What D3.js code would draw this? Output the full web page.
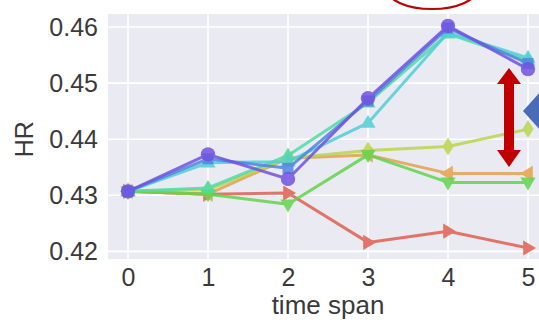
<!DOCTYPE html>
<html>
<head>
<meta charset="utf-8">
<script src="https://cdn.jsdelivr.net/npm/d3@7"></script>
<style>
  html, body { margin: 0; padding: 0; background: #fff; }
  svg { display: block; font-family: "Liberation Sans", Arial, sans-serif; }
</style>
</head>
<body>
<svg id="chart" width="539" height="325"></svg>
<script>
// HR per time span, one series per model variant
const timeSpans = [0, 1, 2, 3, 4, 5];
const yTicks = [0.42, 0.43, 0.44, 0.45, 0.46];

const redSeries    = [0.4307, 0.4302, 0.4304, 0.4216, 0.4236, 0.4206];
const orangeSeries = [0.4307, 0.4302, 0.4366, 0.4372, 0.4339, 0.4339];
const limeSeries   = [0.4307, 0.4310, 0.4366, 0.4380, 0.4387, 0.4418];
const greenSeries  = [0.4307, 0.4302, 0.4284, 0.4372, 0.4323, 0.4323];
const mintSeries   = [0.4307, 0.4313, 0.4371, 0.4465, 0.4588, 0.4540];
const cyanSeries   = [0.4307, 0.4358, 0.4360, 0.4429, 0.4590, 0.4545];
const blueSeries   = [0.4307, 0.4365, 0.4348, 0.4468, 0.4598, 0.4535];
const purpleSeries = [0.4307, 0.4373, 0.4329, 0.4473, 0.4602, 0.4525];

const series = [
  { values: redSeries,    color: "#e0604f", marker: "right" },
  { values: orangeSeries, color: "#e3a24f", marker: "left" },
  { values: limeSeries,   color: "#b9d64c", marker: "diamond" },
  { values: greenSeries,  color: "#62d44c", marker: "down" },
  { values: mintSeries,   color: "#4fdca8", marker: "up" },
  { values: cyanSeries,   color: "#4fcfd8", marker: "up" },
  { values: blueSeries,   color: "#4f86e0", marker: "square" },
  { values: purpleSeries, color: "#7152e0", marker: "circle" }
];

const svg = d3.select("#chart");
const plot = { left: 108, right: 548, top: 14, bottom: 259 };

const x = d3.scaleLinear().domain([-0.25, 5.25]).range([plot.left, plot.right]);
const y = d3.scaleLinear().domain([0.41864, 0.46232]).range([plot.bottom, plot.top]);

// plot background
svg.append("rect")
  .attr("x", plot.left).attr("y", plot.top)
  .attr("width", plot.right - plot.left).attr("height", plot.bottom - plot.top)
  .attr("fill", "#eaeaf2");

// grid lines
svg.append("g").selectAll("line").data(yTicks).join("line")
  .attr("x1", plot.left).attr("x2", plot.right)
  .attr("y1", d => y(d)).attr("y2", d => y(d))
  .attr("stroke", "#fff").attr("stroke-width", 1.6);
svg.append("g").selectAll("line").data(timeSpans).join("line")
  .attr("y1", plot.top).attr("y2", plot.bottom)
  .attr("x1", d => x(d)).attr("x2", d => x(d))
  .attr("stroke", "#fff").attr("stroke-width", 1.6);

// axes (labels only, no tick marks or domain line)
const yAxis = svg.append("g")
  .attr("transform", `translate(${plot.left},0)`)
  .call(d3.axisLeft(y).tickValues(yTicks).tickFormat(d3.format(".2f")).tickSize(0).tickPadding(10));
const xAxis = svg.append("g")
  .attr("transform", `translate(0,${plot.bottom})`)
  .call(d3.axisBottom(x).tickValues(timeSpans).tickFormat(d3.format("d")).tickSize(0).tickPadding(9));
[yAxis, xAxis].forEach(a => {
  a.select(".domain").remove();
  a.selectAll("text").attr("fill", "#3a3a3a").attr("font-size", 25)
    .attr("font-family", "Liberation Sans, Arial, sans-serif");
});

svg.append("text")
  .attr("x", x(2.5)).attr("y", 314)
  .attr("text-anchor", "middle").attr("fill", "#3a3a3a").attr("font-size", 26)
  .text("time span");
svg.append("text")
  .attr("transform", `translate(33,${y(0.44)}) rotate(-90)`)
  .attr("text-anchor", "middle").attr("fill", "#3a3a3a").attr("font-size", 25)
  .text("HR");

// lines and markers
const line = d3.line().x((d, i) => x(timeSpans[i])).y(d => y(d));
const triPath = (r) => `M0,${-r}L${r * 0.95},${r * 0.6}L${-r * 0.95},${r * 0.6}Z`;
const markerPath = {
  up: triPath(8),
  down: triPath(8),
  right: triPath(8),
  left: triPath(8),
  diamond: "M0,-9L5.5,0L0,9L-5.5,0Z",
  square: "M-5.5,-5.5H5.5V5.5H-5.5Z"
};
const markerRotate = { up: 0, down: 180, right: 90, left: -90, diamond: 0, square: 0 };

const gSeries = svg.append("g");
series.forEach(s => {
  const g = gSeries.append("g").attr("opacity", 0.85);
  g.append("path").datum(s.values)
    .attr("d", line).attr("fill", "none")
    .attr("stroke", s.color).attr("stroke-width", 3).attr("stroke-linejoin", "round");
  if (s.marker === "circle") {
    g.selectAll("circle").data(s.values).join("circle")
      .attr("cx", (d, i) => x(timeSpans[i])).attr("cy", d => y(d))
      .attr("r", 7.2).attr("fill", s.color);
  } else {
    g.selectAll("path.m").data(s.values).join("path").attr("class", "m")
      .attr("d", markerPath[s.marker])
      .attr("transform", (d, i) => `translate(${x(timeSpans[i])},${y(d)}) rotate(${markerRotate[s.marker]})`)
      .attr("fill", s.color);
  }
});

// annotations: red ellipse at the top, red double arrow, blue pointer
svg.append("ellipse")
  .attr("cx", 432).attr("cy", -11).attr("rx", 45).attr("ry", 20)
  .attr("fill", "none").attr("stroke", "#c00000").attr("stroke-width", 2.2);

svg.append("path")
  .attr("d", "M509,68 L521,84 L514,84 L514,150 L521,150 L509,167 L497,150 L504,150 L504,84 L497,84 Z")
  .attr("fill", "#c00000");

svg.append("path")
  .attr("d", "M523,111 L542,90 L542,132 Z")
  .attr("fill", "#4a6cb8");
</script>
</body>
</html>
